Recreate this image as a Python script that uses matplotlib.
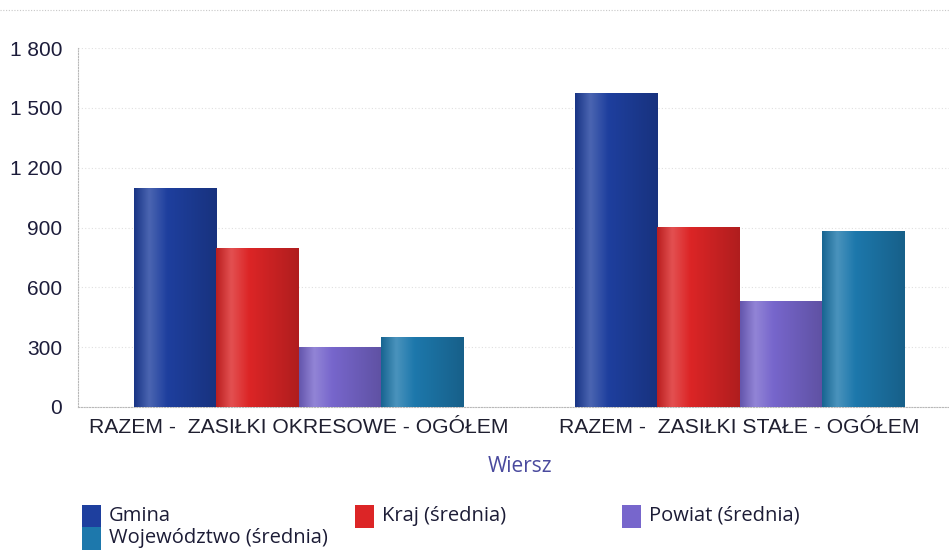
import numpy as np
import matplotlib
matplotlib.use("Agg")
import matplotlib.pyplot as plt
from matplotlib.patches import Rectangle
from matplotlib.lines import Line2D
from matplotlib.colors import to_rgb

plt.rcParams["font.family"] = ["Liberation Sans", "DejaVu Sans"]

# Data
categories = ["RAZEM -  ZASIŁKI OKRESOWE - OGÓŁEM", "RAZEM -  ZASIŁKI STAŁE - OGÓŁEM"]
series = ["Gmina", "Kraj (średnia)", "Powiat (średnia)", "Województwo (średnia)"]
gmina = [1095, 1570]
kraj = [795, 900]
powiat = [300, 527]
wojewodztwo = [350, 878]
values = [gmina, kraj, powiat, wojewodztwo]
colors = ["#1e3f9e", "#dc2526", "#7766cc", "#1d78ac"]
yticks = [0, 300, 600, 900, 1200, 1500, 1800]
ytick_labels = ["0", "300", "600", "900", "1 200", "1 500", "1 800"]

W, H = 949, 551
fig = plt.figure(figsize=(W / 100, H / 100), dpi=100)
ax = fig.add_axes([78 / W, (H - 407) / H, 1 - 78 / W, 359 / H])


def shade(c):
    # horizontal gradient: dark edge, light stripe, base, darker right side
    base = np.array(to_rgb(c))
    light = base + (1 - base) * 0.2
    dark = base * 0.8
    stops = [0.0, 0.18, 0.4, 1.0]
    cols = [base * 0.85, light, base, dark]
    xs = np.linspace(0, 1, 64)
    img = np.zeros((1, 64, 3))
    for k in range(3):
        img[0, :, k] = np.interp(xs, stops, [cc[k] for cc in cols])
    return np.clip(img, 0, 1)


x = np.arange(len(categories))
bw = 0.187
for i, (vals, c) in enumerate(zip(values, colors)):
    pos = x + (i - 1.5) * bw
    bars = ax.bar(pos, vals, width=bw, color=c, zorder=2)
    for b in bars:
        x0, y0 = b.get_x(), b.get_y()
        ax.imshow(shade(c), extent=[x0, x0 + b.get_width(), y0, y0 + b.get_height()],
                  aspect="auto", zorder=3, interpolation="bilinear")

ax.set_xlim(-0.5, 1.475)
ax.set_ylim(0, 1800)
ax.set_yticks(yticks)
ax.set_yticklabels(ytick_labels)
ax.set_xticks(x)
ax.set_xticklabels(categories)
ax.tick_params(axis="y", length=0, pad=11.5, labelsize=15, labelcolor="#1c1c3a")
ax.tick_params(axis="x", length=0, pad=8, labelsize=15.2, labelcolor="#1f1f30")
ax.grid(axis="y", color="#e0e0e0", linestyle=(0, (1, 2)), linewidth=0.8, zorder=0)
for s in ["top", "right"]:
    ax.spines[s].set_visible(False)
for s in ["left", "bottom"]:
    ax.spines[s].set_color("#b8b8b8")
    ax.spines[s].set_linestyle((0, (1, 1.5)))
    ax.spines[s].set_linewidth(0.8)

fig.text(520 / W, 1 - 467 / H, "Wiersz", ha="center", va="center",
         fontsize=15, color="#4a4a9e", family=["Open Sans", "DejaVu Sans"])

# top border
fig.add_artist(Line2D([0, 1], [1 - 10 / H, 1 - 10 / H], color="#c8c8c8",
                      linestyle=(0, (1, 1.5)), linewidth=0.8))

# legend
leg_pos = [(82, 516), (355, 516), (622, 516), (82, 538)]
for (lx, ly), name, c in zip(leg_pos, series, colors):
    fig.add_artist(Rectangle((lx / W, 1 - (ly + 12) / H), 19 / W, 23 / H,
                             facecolor=c, edgecolor="none"))
    fig.text((lx + 27) / W, 1 - ly / H, name, ha="left", va="center",
             fontsize=14.5, color="#1c1c36", family=["Open Sans", "DejaVu Sans"])

fig.savefig("out.png", dpi=100)
